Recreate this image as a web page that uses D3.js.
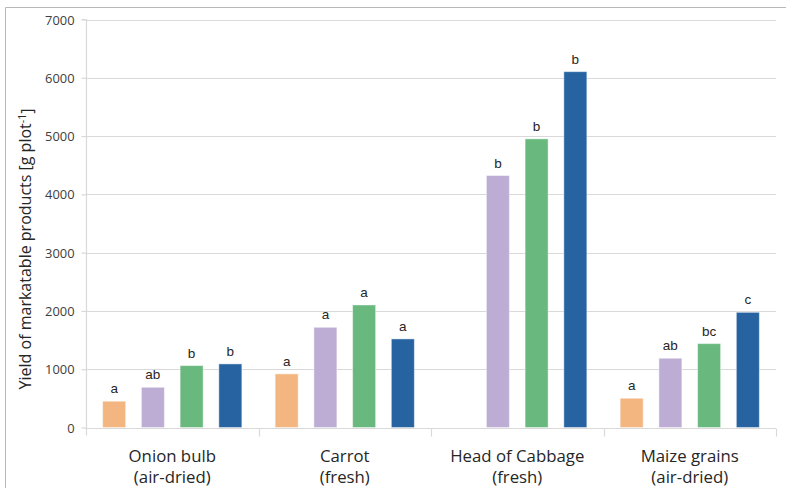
<!DOCTYPE html>
<html>
<head>
<meta charset="utf-8">
<script src="https://cdn.jsdelivr.net/npm/d3@7"></script>
<style>
  html, body { margin: 0; padding: 0; background: #fff; }
  svg { display: block; }
</style>
</head>
<body>
<svg id="chart" width="786" height="488"></svg>
<script>
// Crops (two-line axis labels)
const categoryLine1 = ["Onion bulb", "Carrot", "Head of Cabbage", "Maize grains"];
const categoryLine2 = ["(air-dried)", "(fresh)", "(fresh)", "(air-dried)"];

// Treatments, one series each
const seriesNames = ["T1", "T2", "T3", "T4"];
const seriesColors = ["#F3B681", "#BDADD4", "#69B87D", "#2663A0"];

// Yield of marketable products, g per plot (null = no bar)
const valuesT1 = [451, 920, null, 502];
const valuesT2 = [690, 1719, 4323, 1188];
const valuesT3 = [1062, 2102, 4952, 1439];
const valuesT4 = [1091, 1520, 6105, 1976];

// Significance letters written above each bar
const lettersT1 = ["a", "a", "", "a"];
const lettersT2 = ["ab", "a", "b", "ab"];
const lettersT3 = ["b", "a", "b", "bc"];
const lettersT4 = ["b", "a", "b", "c"];

const yTicks = [0, 1000, 2000, 3000, 4000, 5000, 6000, 7000];

const seriesValues = [valuesT1, valuesT2, valuesT3, valuesT4];
const seriesLetters = [lettersT1, lettersT2, lettersT3, lettersT4];

const svg = d3.select("#chart");
const plot = { left: 86, right: 776, top: 19.5, bottom: 427.5 };

// chart-area frame (top and left edges)
svg.append("path")
  .attr("d", "M5.5,488 V7.5 H786")
  .attr("fill", "none")
  .attr("stroke", "#b8b8b8")
  .attr("stroke-width", 1);

const x0 = d3.scaleBand()
  .domain(d3.range(categoryLine1.length))
  .range([plot.left, plot.right])
  .padding(0);

const x1 = d3.scaleBand()
  .domain(d3.range(seriesNames.length))
  .range([0, x0.bandwidth()])
  .paddingInner(0.406)
  .paddingOuter(0.43);

const y = d3.scaleLinear()
  .domain([0, 7000])
  .range([plot.bottom, plot.top]);

// horizontal gridlines
svg.append("g")
  .selectAll("line")
  .data(yTicks.filter(d => d > 0))
  .join("line")
  .attr("x1", plot.left)
  .attr("x2", plot.right)
  .attr("y1", d => Math.round(y(d)) + 0.5)
  .attr("y2", d => Math.round(y(d)) + 0.5)
  .attr("stroke", "#d9d9d9")
  .attr("stroke-width", 1.2);

// y axis
const yAxis = svg.append("g")
  .attr("transform", `translate(${plot.left + 0.5},0)`)
  .call(d3.axisLeft(y).tickValues(yTicks).tickSize(5).tickPadding(7).tickFormat(d3.format("d")));
yAxis.select(".domain").attr("stroke", "#d9d9d9").attr("stroke-width", 1.2)
  .attr("d", `M-5,${plot.top}H0V${plot.bottom + 8}`);
yAxis.selectAll(".tick line").attr("stroke", "#d9d9d9").attr("stroke-width", 1.2);
yAxis.selectAll(".tick text")
  .attr("fill", "#404040")
  .style("font-family", "'Open Sans', sans-serif")
  .style("font-size", "12.9px")
  .attr("dy", "0.35em");

// x axis baseline with category separators
const xAxis = svg.append("g")
  .attr("transform", `translate(0,${Math.round(plot.bottom) + 0.5})`)
  .call(d3.axisBottom(x0).tickValues([]).tickSizeOuter(0));
xAxis.select(".domain").remove();
xAxis.append("line")
  .attr("x1", plot.left).attr("x2", plot.right)
  .attr("stroke", "#d9d9d9").attr("stroke-width", 1.2);
xAxis.selectAll(".sep")
  .data(d3.range(1, categoryLine1.length + 1))
  .join("line")
  .attr("class", "sep")
  .attr("x1", i => Math.round(x0(0) + i * x0.bandwidth()) + 0.5)
  .attr("x2", i => Math.round(x0(0) + i * x0.bandwidth()) + 0.5)
  .attr("y1", 0).attr("y2", 8)
  .attr("stroke", "#d9d9d9").attr("stroke-width", 1.2);

// category labels
const catLabels = svg.append("g")
  .selectAll("text")
  .data(d3.range(categoryLine1.length))
  .join("text")
  .attr("x", i => x0(i) + x0.bandwidth() / 2)
  .attr("text-anchor", "middle")
  .attr("fill", "#262626")
  .style("font-family", "'Open Sans', sans-serif")
  .style("font-size", "16.8px");
catLabels.append("tspan")
  .attr("x", i => x0(i) + x0.bandwidth() / 2)
  .attr("y", 462)
  .text(i => categoryLine1[i]);
catLabels.append("tspan")
  .attr("x", i => x0(i) + x0.bandwidth() / 2)
  .attr("y", 483)
  .text(i => categoryLine2[i]);

// bars and letters
const cells = [];
seriesValues.forEach((vals, s) => {
  vals.forEach((v, c) => {
    if (v !== null) cells.push({ s, c, v, letter: seriesLetters[s][c] });
  });
});

const barGroup = svg.append("g");
barGroup.selectAll("rect")
  .data(cells)
  .join("rect")
  .attr("x", d => x0(d.c) + x1(d.s))
  .attr("width", x1.bandwidth())
  .attr("y", d => y(d.v))
  .attr("height", d => y(0) - y(d.v))
  .attr("fill", d => seriesColors[d.s])
  .attr("stroke", "rgba(255,255,255,0.45)")
  .attr("stroke-width", 1);

barGroup.selectAll("text")
  .data(cells.filter(d => d.letter))
  .join("text")
  .attr("x", d => x0(d.c) + x1(d.s) + x1.bandwidth() / 2)
  .attr("y", d => y(d.v) - 8)
  .attr("text-anchor", "middle")
  .attr("fill", "#262626")
  .style("font-family", "'Liberation Sans', Arial, sans-serif")
  .style("font-size", "13.5px")
  .text(d => d.letter);

// y-axis title with superscript unit
const title = svg.append("text")
  .attr("transform", "translate(31,249) rotate(-90)")
  .attr("text-anchor", "middle")
  .attr("fill", "#262626")
  .style("font-family", "'Open Sans', sans-serif")
  .style("font-size", "16px");
title.append("tspan").text("Yield of markatable products [g plot");
title.append("tspan").attr("dy", "-0.45em").style("font-size", "10.5px").text("-1");
title.append("tspan").attr("dy", "0.45em").text("]");
</script>
</body>
</html>
